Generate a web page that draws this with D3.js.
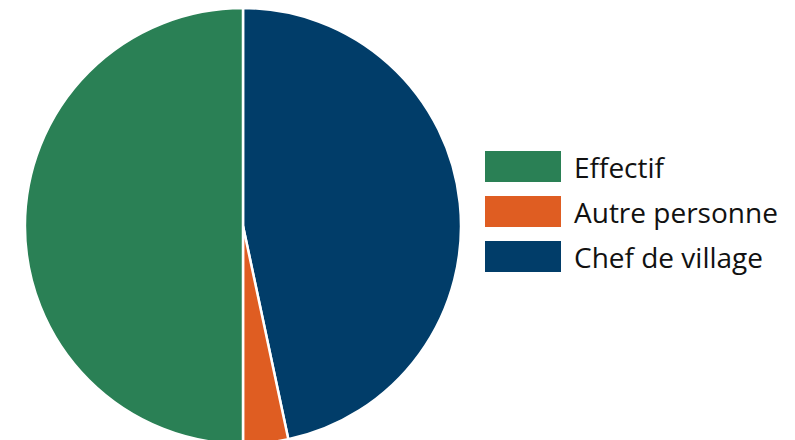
<!DOCTYPE html>
<html><head><meta charset="utf-8">
<script src="https://cdn.jsdelivr.net/npm/d3@7"></script>
<style>body{margin:0;background:#fff;}svg{display:block;}</style>
</head><body>
<script>
const categories = ["Chef de village", "Autre personne", "Effectif"];
const values = [14, 1, 15];
const colors = ["#013d69", "#df5d22", "#2a8055"];
const legendOrder = ["Effectif", "Autre personne", "Chef de village"];

const W = 795, H = 440;
const svg = d3.select("body").append("svg").attr("width", W).attr("height", H);
const cx = 243, cy = 226, r = 218;
const color = d3.scaleOrdinal().domain(categories).range(colors);
const data = categories.map((c, i) => ({cat: c, value: values[i]}));
const pie = d3.pie().sort(null).value(d => d.value);
const arc = d3.arc().innerRadius(0).outerRadius(r);
svg.append("g").attr("transform", `translate(${cx},${cy})`)
  .selectAll("path").data(pie(data)).join("path")
  .attr("d", arc).attr("fill", d => color(d.data.cat))
  .attr("stroke", "#fff").attr("stroke-width", 2.5);

const leg = svg.append("g").attr("transform", "translate(485,151)");
const y = d3.scaleBand().domain(legendOrder).range([0, 135]).paddingInner(0);
const items = leg.selectAll("g").data(legendOrder).join("g")
  .attr("transform", d => `translate(0,${y(d)})`);
items.append("rect").attr("width", 76).attr("height", 31).attr("fill", d => color(d));
items.append("text").attr("x", 89).attr("y", 27)
  .attr("font-family", "'Open Sans', sans-serif").attr("font-size", 28)
  .attr("fill", "#111").text(d => d);
</script>
</body></html>
